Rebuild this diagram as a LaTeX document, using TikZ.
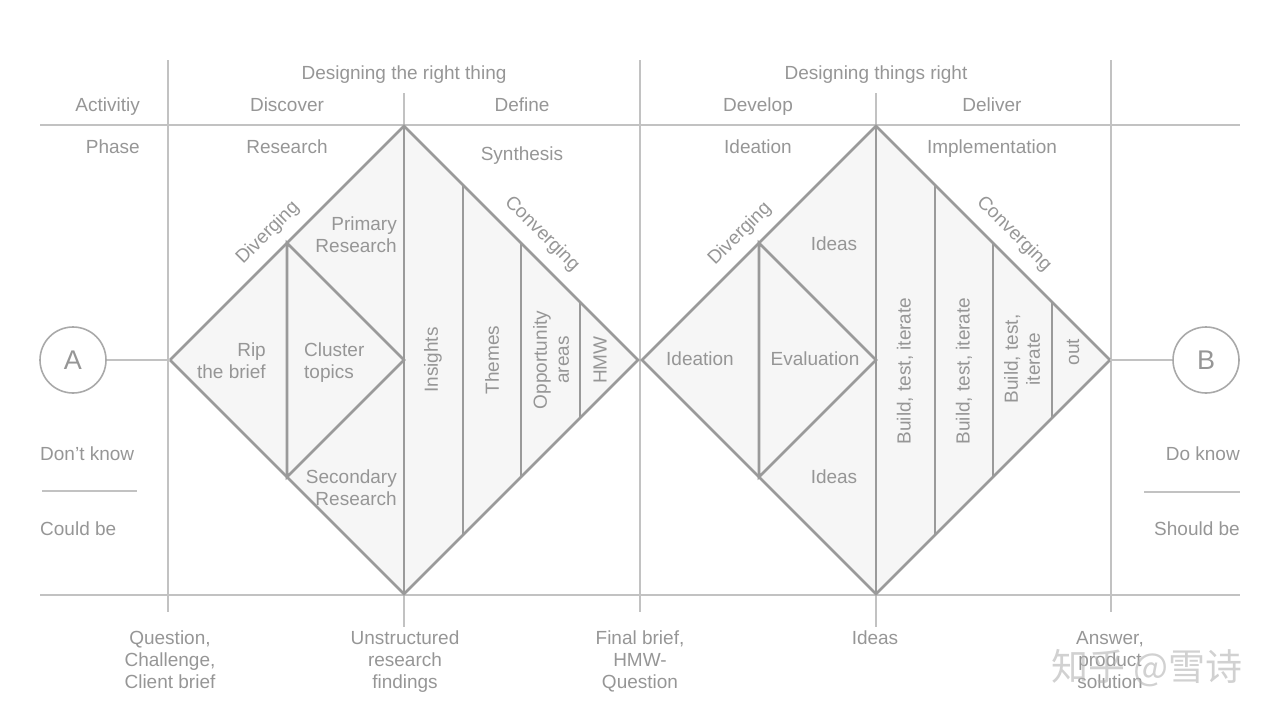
\documentclass[tikz,border=0pt]{standalone}
\usepackage{fontspec}
\setmainfont{Liberation Sans}
\newfontfamily\cjk{Noto Sans CJK SC}
\definecolor{lnc}{HTML}{9A9A9A}
\definecolor{thn}{HTML}{C2C2C2}
\definecolor{fil}{HTML}{F6F6F6}
\definecolor{txc}{HTML}{969696}
\begin{document}
\begin{tikzpicture}[x=1pt,y=-1pt,
  dia/.style={draw=lnc,line width=2.6pt,line join=miter},
  thinline/.style={draw=thn,line width=1.1pt},
  lbl/.style={text=txc,inner sep=0pt,font=\fontsize{19}{22}\selectfont},
  vlbl/.style={lbl,rotate=90,align=center,anchor=center},
  endpt/.style={circle,draw=lnc!85,line width=1.6pt,minimum size=66pt,inner sep=0pt,text=txc,font=\fontsize{27}{30}\selectfont}
]
\useasboundingbox (0,0) rectangle (1280,720);

% grid lines
\draw[thinline] (40,125) -- (1240,125);
\draw[thinline] (40,595) -- (1240,595);
\draw[thinline] (168,60) -- (168,612);
\draw[thinline] (640,60) -- (640,612);
\draw[thinline] (1111,60) -- (1111,612);
\draw[thinline] (404,93) -- (404,125);
\draw[thinline] (876,93) -- (876,125);
\draw[thinline] (404,595) -- (404,627);
\draw[thinline] (876,595) -- (876,627);
\draw[thinline] (42,491) -- (137,491);
\draw[thinline] (1144,492) -- (1240,492);

% diamond 1
\coordinate (L1) at (170,360);
\coordinate (T1) at (404,126);
\coordinate (R1) at (638,360);
\coordinate (B1) at (404,594);
\fill[fil] (L1) -- (T1) -- (R1) -- (B1) -- cycle;
\draw[dia] (287,243) -- (404,360) -- (287,477) -- cycle;
\draw[dia] (T1) -- (B1);
\draw[dia] (463,185) -- (463,535);
\draw[dia] (521,243) -- (521,477);
\draw[dia] (580,302) -- (580,418);
\draw[dia] (L1) -- (T1) -- (R1) -- (B1) -- cycle;

% diamond 2
\coordinate (L2) at (642,360);
\coordinate (T2) at (876,126);
\coordinate (R2) at (1110,360);
\coordinate (B2) at (876,594);
\fill[fil] (L2) -- (T2) -- (R2) -- (B2) -- cycle;
\draw[dia] (759,243) -- (876,360) -- (759,477) -- cycle;
\draw[dia] (T2) -- (B2);
\draw[dia] (935,185) -- (935,535);
\draw[dia] (993,243) -- (993,477);
\draw[dia] (1052,302) -- (1052,418);
\draw[dia] (L2) -- (T2) -- (R2) -- (B2) -- cycle;

% end points
\node[endpt] (A) at (73,360) {A};
\node[endpt] (B) at (1206,360) {B};
\draw[thinline] (A) -- (L1);
\draw[thinline] (R2) -- (B);

% header texts
\node[lbl,anchor=base] (h1) at (404,79) {Designing the right thing};
\node[lbl,anchor=base] (h2) at (876,79) {Designing things right};
\node[lbl,anchor=base east] (act) at (140,111) {Activitiy};
\node[lbl,anchor=base] (disc) at (287,111) {Discover};
\node[lbl,anchor=base] (defi) at (522,111) {Define};
\node[lbl,anchor=base] (deve) at (758,111) {Develop};
\node[lbl,anchor=base] (deli) at (992,111) {Deliver};
\node[lbl,anchor=base east] (phase) at (140,153) {Phase};
\node[lbl,anchor=base] (res) at (287,153) {Research};
\node[lbl,anchor=base] (syn) at (522,160) {Synthesis};
\node[lbl,anchor=base] (idea) at (758,153) {Ideation};
\node[lbl,anchor=base] (impl) at (992,153) {Implementation};

% diamond 1 texts
\node[lbl,rotate=45] (div1) at (268,233) {Diverging};
\node[lbl,rotate=-45] (con1) at (542,234) {Converging};
\node[lbl,align=right,anchor=base east] (prim) at (397,252) {Primary\\Research};
\node[lbl,align=right,anchor=base east] (sec) at (397,505) {Secondary\\Research};
\node[lbl,align=right,anchor=base east] (rip) at (266,378) {Rip\\the brief};
\node[lbl,align=left,anchor=base west] (clu) at (304,378) {Cluster\\topics};
\node[vlbl] (ins) at (433,360) {Insights};
\node[vlbl] (the) at (492,360) {Themes};
\node[vlbl] (opp) at (551,360) {Opportunity\\areas};
\node[vlbl] (hmw) at (600,360) {HMW};

% diamond 2 texts
\node[lbl,rotate=45] (div2) at (740,234) {Diverging};
\node[lbl,rotate=-45] (con2) at (1014,234) {Converging};
\node[lbl,anchor=base] (ideas1) at (834,250) {Ideas};
\node[lbl,anchor=base] (ideas2) at (834,483) {Ideas};
\node[lbl,anchor=base] (ideat) at (700,365) {Ideation};
\node[lbl,anchor=base] (eval) at (815,365) {Evaluation};
\node[vlbl] (bti1) at (905,371) {Build, test, iterate};
\node[vlbl] (bti2) at (964,371) {Build, test, iterate};
\node[vlbl] (bti3) at (1022,359) {Build, test,\\iterate};
\node[vlbl] (out) at (1073,352) {out};

% side texts
\node[lbl,anchor=base west] (dk) at (40,460) {Don't know};
\node[lbl,anchor=base west] (cb) at (40,535) {Could be};
\node[lbl,anchor=base east] (dok) at (1240,460) {Do know};
\node[lbl,anchor=base east] (sb) at (1240,535) {Should be};

% bottom texts
\node[lbl,align=center,anchor=base] (q) at (170,688) {Question,\\Challenge,\\Client brief};
\node[lbl,align=center,anchor=base] (u) at (405,688) {Unstructured\\research\\findings};
\node[lbl,align=center,anchor=base] (f) at (640,688) {Final brief,\\HMW-\\Question};
\node[lbl,align=center,anchor=base] (i) at (875,644) {Ideas};
\node[lbl,align=center,anchor=base] (ans) at (1110,688) {Answer,\\product\\solution};

% watermark
\node[text=black!30,opacity=0.6,inner sep=0pt,font=\cjk\fontsize{37}{40}\selectfont] (wm) at (1147,668) {知乎 @雪诗};
\end{tikzpicture}
\end{document}
